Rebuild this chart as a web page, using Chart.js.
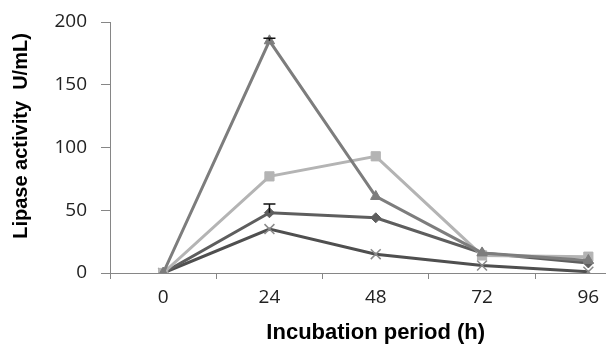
<!DOCTYPE html>
<html>
<head>
<meta charset="utf-8">
<script src="https://cdn.jsdelivr.net/npm/chart.js@4/dist/chart.umd.min.js"></script>
<style>
  html, body { margin: 0; padding: 0; background: #fff; overflow: hidden; }
  #wrap { position: relative; width: 650px; height: 347px; }
</style>
</head>
<body>
<div id="wrap"><canvas id="chart"></canvas></div>
<script>
'use strict';

/* ---- data ---- */
const hours = ['0', '24', '48', '72', '96'];

const seriesA = [0, 185, 61, 16, 10];   // triangle, mid grey
const seriesB = [0, 77, 93, 14, 13];    // square, light grey
const seriesC = [0, 48, 44, 16, 8];     // diamond, dark grey
const seriesD = [0, 35, 15, 6, 1];      // cross, darkest

const errA = [0, 2, 0, 0, 0];
const errC = [0, 7, 0, 0, 0];

const yTitle = 'Lipase activity  U/mL)';
const xTitle = 'Incubation period (h)';

/* error bar caps drawn above points */
const errorBars = {
  id: 'errorBars',
  afterDatasetsDraw(chart) {
    const ctx = chart.ctx;
    const y = chart.scales.y;
    const x = chart.scales.x;
    const sets = [[seriesA, errA], [seriesC, errC]];
    ctx.save();
    ctx.strokeStyle = '#111';
    ctx.lineWidth = 1.5;
    sets.forEach(([vals, errs]) => {
      vals.forEach((v, i) => {
        if (!errs[i]) return;
        const px = x.getPixelForValue(i);
        const y0 = y.getPixelForValue(v);
        const y1 = y.getPixelForValue(v + errs[i]);
        ctx.beginPath();
        ctx.moveTo(px, y0);
        ctx.lineTo(px, y1);
        ctx.moveTo(px - 6, y1);
        ctx.lineTo(px + 6, y1);
        ctx.stroke();
      });
    });
    ctx.restore();
  }
};

/* y title drawn by hand: it sits above the middle of the axis in the original */
const yTitlePlugin = {
  id: 'yTitlePlugin',
  afterDraw(chart) {
    const ctx = chart.ctx;
    ctx.save();
    ctx.translate(21, 136);
    ctx.rotate(-Math.PI / 2);
    ctx.font = "bold 20px 'Liberation Sans', Arial, sans-serif";
    ctx.fillStyle = '#000';
    ctx.textAlign = 'center';
    ctx.textBaseline = 'middle';
    ctx.fillText(yTitle, 0, 0);
    ctx.restore();
  }
};

function line(data, color, style, radius, pointColor) {
  return {
    data: data,
    borderColor: color,
    backgroundColor: pointColor || color,
    pointBorderColor: pointColor || color,
    pointBackgroundColor: pointColor || color,
    borderWidth: 3,
    pointStyle: style,
    pointRadius: radius,
    pointBorderWidth: 1,
    tension: 0,
  };
}

const dsD = line(seriesD, '#4f4f4f', 'crossRot', 7, '#8a8a8a');
dsD.pointBorderWidth = 1.5;

new Chart(document.getElementById('chart'), {
  type: 'line',
  data: {
    labels: hours,
    datasets: [
      line(seriesA, '#7d7d7d', 'triangle', 6),
      line(seriesB, '#b4b4b4', 'rect', 6.5),
      line(seriesC, '#5e5e5e', 'rectRot', 5),
      dsD,
    ],
  },
  options: {
    responsive: true,
    maintainAspectRatio: false,
    animation: false,
    layout: { padding: { top: 22, right: 7, bottom: 0, left: 0 } },
    plugins: { legend: { display: false }, tooltip: { enabled: false } },
    scales: {
      x: {
        offset: true,
        grid: {
          offset: true,
          drawOnChartArea: false,
          color: '#868686',
          tickLength: 6,
        },
        border: { color: '#868686', width: 1 },
        ticks: {
          color: '#222',
          padding: 7,
          font: { family: "'Open Sans', sans-serif", size: 19 },
        },
        title: {
          display: true,
          text: xTitle,
          color: '#000',
          padding: { top: 4, bottom: 1 },
          font: { family: "'Liberation Sans', Arial, sans-serif", size: 22, weight: 'bold' },
        },
        afterFit(scale) { scale.height = 74; },
      },
      y: {
        min: 0,
        max: 200,
        ticks: {
          stepSize: 50,
          color: '#222',
          padding: 14,
          font: { family: "'Open Sans', sans-serif", size: 19 },
        },
        grid: {
          drawOnChartArea: false,
          color: '#868686',
          tickLength: 9,
        },
        border: { color: '#868686', width: 1 },
        afterFit(scale) {
          scale.width = 110;
          scale.paddingTop = 0;
          scale.paddingBottom = 0;
        },
      },
    },
  },
  plugins: [errorBars, yTitlePlugin],
});
</script>
</body>
</html>
